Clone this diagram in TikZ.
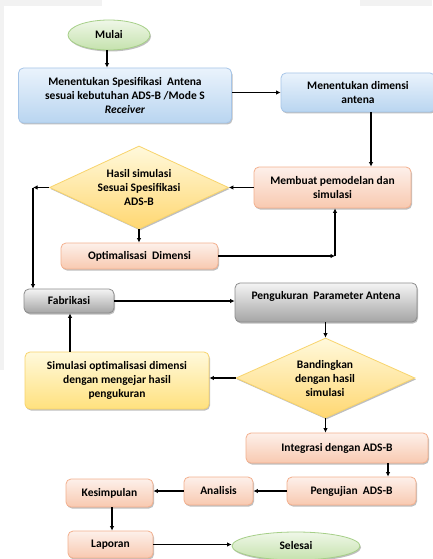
\documentclass[tikz,border=0pt]{standalone}
\usepackage{fontspec}
\setmainfont{Carlito}
\usetikzlibrary{shapes.geometric,shadows,arrows.meta}
\definecolor{bgray}{HTML}{F2F2F2}
\definecolor{blT}{HTML}{EAF3FC}\definecolor{blB}{HTML}{B9D5F0}\definecolor{blD}{HTML}{A6C5E8}
\definecolor{orT}{HTML}{FDF0EA}\definecolor{orB}{HTML}{F8C9B0}\definecolor{orD}{HTML}{F3B08E}
\definecolor{ylT}{HTML}{FFF9DC}\definecolor{ylB}{HTML}{FFE17E}\definecolor{ylD}{HTML}{F8D46C}
\definecolor{grT}{HTML}{F4F4F4}\definecolor{grB}{HTML}{A5A5A5}\definecolor{grD}{HTML}{8C8C8C}
\definecolor{gnT}{HTML}{EFF7E8}\definecolor{gnB}{HTML}{C5E2AD}\definecolor{gnD}{HTML}{A6CF88}
\tikzset{
  basebox/.style={rounded corners=5pt, align=center, inner sep=0pt, line width=0.8pt,
    font=\bfseries\fontsize{11.5}{14}\selectfont,
    drop shadow={shadow xshift=1pt, shadow yshift=-1.5pt, opacity=0.25, fill=black}},
  bluebox/.style={basebox, top color=blT, bottom color=blB, draw=blD},
  orbox/.style={basebox, top color=orT, bottom color=orB, draw=orD},
  ylbox/.style={basebox, top color=ylT, bottom color=ylB, draw=ylD},
  grbox/.style={basebox, top color=grT, bottom color=grB, draw=grD},
  gnell/.style={basebox, rounded corners=0pt, ellipse, top color=gnT, bottom color=gnB, draw=gnD},
  diam/.style={basebox, rounded corners=0pt, diamond, top color=ylT, bottom color=ylB!90!orange, draw=ylD},
  txt/.style={align=center, inner sep=0pt, font=\bfseries\fontsize{11.5}{14}\selectfont},
  arr/.style={line width=1.1pt, -{Latex[length=4.5pt,width=4.5pt]}}
}
\begin{document}
\begin{tikzpicture}[x=1pt,y=-1pt]
\useasboundingbox (0,0) rectangle (432,559);
\fill[white] (0,0) rectangle (432,559);
\fill[bgray] (0,0) rectangle (102,6);
\fill[bgray] (360,0) rectangle (432,6);
\fill[bgray] (0,0) rectangle (4,370);
% nodes
\node[gnell, minimum width=82pt, minimum height=30pt] (mulai) at (109,35) {Mulai};
\node[bluebox, minimum width=213pt, minimum height=55pt] (spek) at (125,95.5) {Menentukan Spesifikasi\ \ Antena\\sesuai kebutuhan ADS-B /Mode S\\\textit{Receiver}};
\node[bluebox, minimum width=154pt, minimum height=39pt] (dim) at (358,92.5) {Menentukan dimensi\\antena};
\node[orbox, minimum width=157pt, minimum height=41pt] (model) at (332.5,187.5) {Membuat pemodelan dan\\simulasi};
\node[diam, minimum width=179pt, minimum height=83pt] (hasil) at (139,187.5) {};
\node[txt] (hasilT) at (139,188) {Hasil simulasi\\Sesuai Spesifikasi\\ADS-B};
\node[orbox, minimum width=157pt, minimum height=26pt] (opt) at (139.5,256) {Optimalisasi\ \ Dimensi};
\node[grbox, minimum width=90pt, minimum height=24pt] (fab) at (69,301) {Fabrikasi};
\node[grbox, minimum width=182pt, minimum height=39pt] (peng) at (326,302.5) {};
\node[txt] (pengT) at (326,296) {Pengukuran\ \ Parameter Antena};
\node[diam, minimum width=179pt, minimum height=80pt] (band) at (325.5,378) {};
\node[txt] (bandT) at (325,379) {Bandingkan\\dengan hasil\\simulasi};
\node[ylbox, minimum width=184pt, minimum height=57pt] (sim) at (117,380.5) {Simulasi optimalisasi\ dimensi\\dengan mengejar hasil\\pengukuran};
\node[orbox, minimum width=182pt, minimum height=30pt] (integ) at (337,448) {Integrasi dengan ADS-B};
\node[orbox, minimum width=129pt, minimum height=28pt] (uji) at (351.5,491) {Pengujian\ \ ADS-B};
\node[orbox, minimum width=69pt, minimum height=28pt] (anal) at (218.5,491) {Analisis};
\node[orbox, minimum width=87pt, minimum height=28pt] (kes) at (109.5,493) {Kesimpulan};
\node[orbox, minimum width=85pt, minimum height=27pt] (lap) at (110.5,544.5) {Laporan};
\node[gnell, minimum width=128pt, minimum height=28pt] (sel) at (296,546) {Selesai};
% helper coordinates
\coordinate (c1) at (33,187.5);
\coordinate (c2) at (335,256);
\coordinate (x371) at (371,0);
\coordinate (x70) at (70,0);
\coordinate (x388) at (388,0);
\coordinate (x112) at (112,0);
\coordinate (x107) at (107,0);
% connectors
\draw[arr] (mulai.south -| x107) -- (spek.north -| x107);
\draw[arr] (spek.east |- dim.west) -- (dim.west);
\draw[arr] (dim.south -| x371) -- (model.north -| x371);
\draw[arr] (model.west) -- (hasil.east);
\draw[arr] (hasil.west) -- (c1);
\draw[arr] (c1) -- (c1 |- fab.north);
\draw[arr] (hasil.south) -- (hasil.south |- opt.north);
\draw[arr] (opt.east) -- (c2);
\draw[arr] (c2) -- (c2 |- model.south);
\draw[arr] (fab.east) -- (fab.east -| peng.west);
\draw[arr] (peng.south -| band.north) -- (band.north);
\draw[arr] (band.west) -- (band.west -| sim.east);
\draw[arr] (sim.north -| x70) -- (fab.south -| x70);
\draw[arr] (band.south) -- (band.south |- integ.north);
\draw[arr] (integ.south -| x388) -- (uji.north -| x388);
\draw[arr] (uji.west) -- (uji.west -| anal.east);
\draw[arr] (anal.west) -- (anal.west -| kes.east);
\draw[arr] (kes.south -| x112) -- (lap.north -| x112);
\draw[arr] (lap.east) -- (lap.east -| sel.west);
\end{tikzpicture}
\end{document}
